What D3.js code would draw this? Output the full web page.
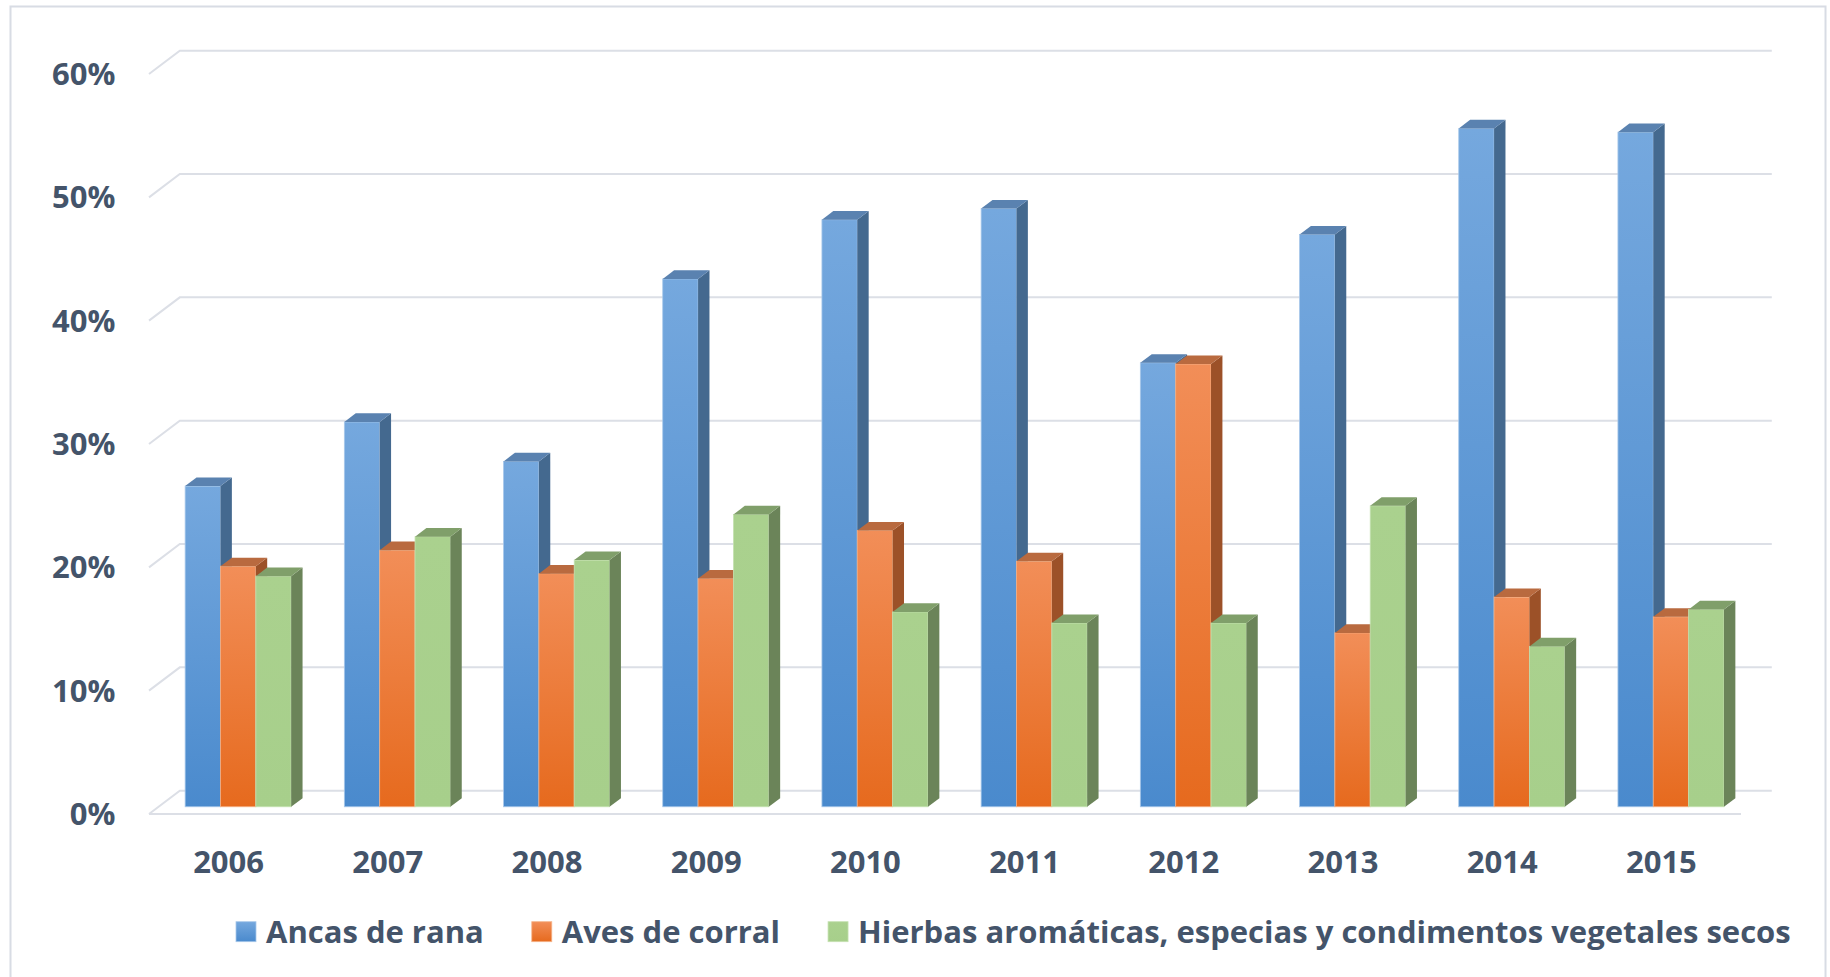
<!DOCTYPE html>
<html>
<head>
<meta charset="utf-8">
<script src="https://cdn.jsdelivr.net/npm/d3@7"></script>
<style>
  html, body { margin: 0; padding: 0; background: #ffffff; }
  svg { display: block; }
  text { font-family: "Open Sans", "Noto Sans", sans-serif; font-weight: 700; fill: #44546a; }
</style>
</head>
<body>
<svg id="chart" width="1830" height="977"></svg>
<script>
// ---- data ----
const years = ["2006","2007","2008","2009","2010","2011","2012","2013","2014","2015"];
const seriesNames = ["Ancas de rana", "Aves de corral", "Hierbas aromáticas, especias y condimentos vegetales secos"];
const ancasDeRana   = [26.0, 31.2, 28.0, 42.8, 47.6, 48.5, 36.0, 46.4, 55.0, 54.7];
const avesDeCorral  = [19.5, 20.8, 18.9, 18.5, 22.4, 19.9, 35.9, 14.1, 17.0, 15.4];
const hierbas       = [18.7, 21.9, 20.0, 23.7, 15.8, 14.9, 14.9, 24.4, 13.0, 16.0];
const yTicks = [0, 10, 20, 30, 40, 50, 60];
const yTickLabels = ["0%", "10%", "20%", "30%", "40%", "50%", "60%"];

const seriesValues = [ancasDeRana, avesDeCorral, hierbas];

// ---- styles ----
const palette = [
  { top: "#5a82b0", side: "#44698f", g0: "#75a8de", g1: "#4a8acd", edge: "#a8c8ea" },
  { top: "#b96a3f", side: "#9c5128", g0: "#f28e58", g1: "#e66a1e", edge: "#f6b48a" },
  { top: "#809f6a", side: "#6b8459", g0: "#aad18e", g1: "#a7cf8b", edge: "#c6e2b2" }
];
const gridColor = "#dcdfe6";

// ---- geometry ----
const svg = d3.select("#chart");
const frontLeft = 149, frontRight = 1741;
const depthDX = 30.8, depthDY = 23.3;      // floor depth projection
const barPlane = 0.31, barDepth = 0.37;    // fraction of depth
const yBackTop = 50.7, yBackBottom = 790.7;

const y = d3.scaleLinear().domain([0, 60]).range([yBackBottom, yBackTop]);
const x0 = d3.scaleBand().domain(years).range([frontLeft, frontRight]).paddingInner(0.334).paddingOuter(0.167);
const x1 = d3.scaleBand().domain(d3.range(seriesNames.length)).range([0, x0.bandwidth()]);
const xCat = d3.scaleBand().domain(years).range([frontLeft, frontRight]);

// frame
svg.append("rect").attr("x", 10.5).attr("y", 6.5).attr("width", 1815).attr("height", 1000)
  .attr("fill", "#ffffff").attr("stroke", "#d8dce4").attr("stroke-width", 2);

// defs gradients
const defs = svg.append("defs");
palette.forEach((p, i) => {
  const g = defs.append("linearGradient").attr("id", "grad" + i)
    .attr("x1", 0).attr("y1", 0).attr("x2", 0).attr("y2", 1);
  g.append("stop").attr("offset", "0%").attr("stop-color", p.g0);
  g.append("stop").attr("offset", "100%").attr("stop-color", p.g1);
});

// gridlines (back wall + left wall diagonal)
const grid = svg.append("g");
yTicks.forEach(t => {
  const yb = y(t), yf = yb + depthDY;
  grid.append("path")
    .attr("d", `M${frontLeft},${yf} L${frontLeft + depthDX},${yb} L${frontRight + depthDX},${yb}`)
    .attr("fill", "none").attr("stroke", gridColor).attr("stroke-width", 2);
});
// floor front edge
grid.append("line")
  .attr("x1", frontLeft).attr("x2", frontRight)
  .attr("y1", y(0) + depthDY).attr("y2", y(0) + depthDY)
  .attr("stroke", gridColor).attr("stroke-width", 2.2);

// y labels
svg.append("g").selectAll("text").data(yTicks).join("text")
  .attr("x", 115.5)
  .attr("y", t => y(t) + depthDY)
  .attr("dy", "0.36em")
  .attr("text-anchor", "end")
  .attr("font-size", 31)
  .text((t, i) => yTickLabels[i]);

// bars
const offX = barPlane * depthDX, offY = -barPlane * depthDY;
const bdx = barDepth * depthDX, bdy = barDepth * depthDY;
const bars = svg.append("g");
years.forEach((yr, ci) => {
  seriesValues.forEach((vals, si) => {
    const v = vals[ci];
    const p = palette[si];
    const xa = x0(yr) + x1(si) + offX;
    const xb = xa + x1.bandwidth();
    const yt = y(v) + depthDY + offY;
    const yz = y(0) + depthDY + offY;
    const g = bars.append("g");
    g.append("rect").attr("x", xa).attr("y", yt).attr("width", xb - xa).attr("height", yz - yt)
      .attr("fill", `url(#grad${si})`).attr("stroke", p.edge).attr("stroke-width", 0.8);
    g.append("path")
      .attr("d", `M${xb},${yt} L${xb + bdx},${yt - bdy} L${xb + bdx},${yz - bdy} L${xb},${yz} Z`)
      .attr("fill", p.side);
    g.append("path")
      .attr("d", `M${xa},${yt} L${xa + bdx},${yt - bdy} L${xb + bdx},${yt - bdy} L${xb},${yt} Z`)
      .attr("fill", p.top);
  });
});

// x labels
svg.append("g").selectAll("text").data(years).join("text")
  .attr("x", d => xCat(d) + xCat.bandwidth() / 2)
  .attr("y", 872.7)
  .attr("text-anchor", "middle")
  .attr("font-size", 31)
  .text(d => d);

// legend
const legend = svg.append("g");
let lx = 236;
seriesNames.forEach((name, i) => {
  legend.append("rect").attr("x", lx).attr("y", 921.7).attr("width", 20).attr("height", 20)
    .attr("fill", `url(#grad${i})`).attr("stroke", palette[i].edge).attr("stroke-width", 0.8);
  const t = legend.append("text").attr("x", lx + 30).attr("y", 942.7)
    .attr("font-size", 31).text(name);
  lx = lx + 30 + t.node().getComputedTextLength() + 48;
});
</script>
</body>
</html>
